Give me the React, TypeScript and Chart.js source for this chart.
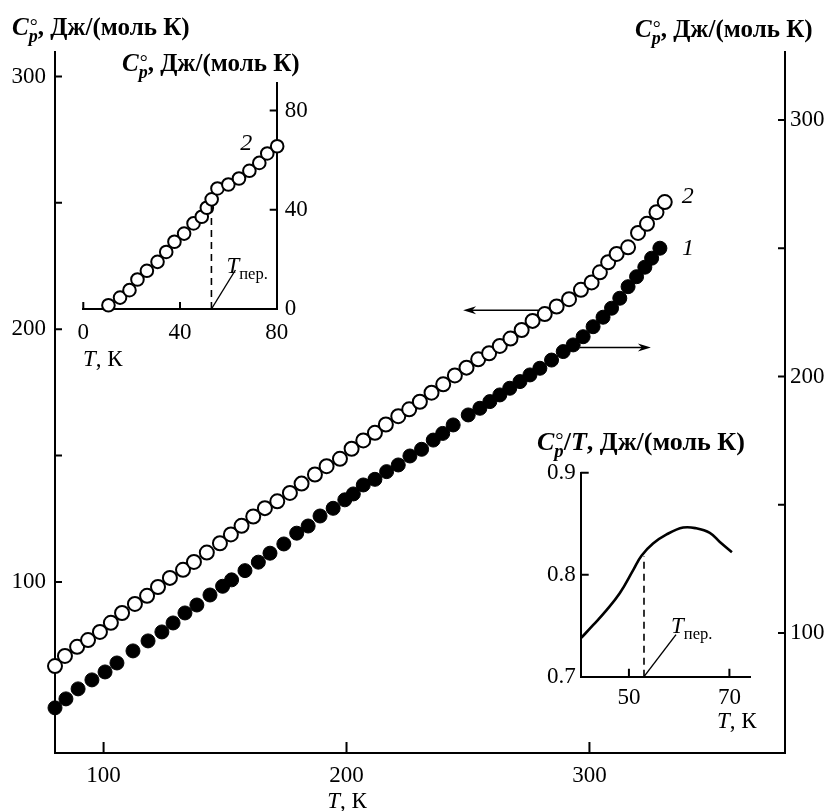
import React, { useEffect, useRef } from 'react';
import { Chart, registerables } from 'chart.js';

Chart.register(...registerables);

const W = 833;
const H = 811;
const INK = '#000';
const FAMILY = 'Liberation Serif';
const FONT = `"${FAMILY}", "Times New Roman", Times, serif`;
const TICK_SIZE = 23;
const TITLE_SIZE = 23;
const UNIT_SIZE = 25;

// Sample 2 (open circles, read on the left axis)
const T_SAMPLE2 = [
  80.0, 84.1, 89.1, 93.6, 98.5, 103.0, 107.6, 112.9, 117.9, 122.4, 127.3, 132.7, 137.2, 142.5,
  147.9, 152.4, 156.8, 161.6, 166.4, 171.5, 176.7, 181.5, 187.0, 191.8, 197.3, 202.1, 206.9,
  211.7, 216.2, 221.3, 225.8, 230.2, 235.0, 239.8, 244.6, 249.4, 254.2, 258.7, 263.1, 267.5,
  272.1, 276.6, 281.6, 286.5, 291.6, 296.5, 300.9, 304.3, 307.7, 311.2, 315.9, 320.0, 323.7,
  327.6, 331.0,
];
const CP_SAMPLE2 = [
  66.7, 70.7, 74.3, 77.0, 80.2, 83.8, 87.7, 91.3, 94.5, 98.0, 101.6, 104.8, 107.9, 111.6,
  115.3, 118.8, 122.2, 125.9, 129.2, 131.9, 135.2, 138.9, 142.5, 145.8, 148.7, 152.7, 156.0,
  159.0, 162.3, 165.6, 168.3, 171.3, 174.9, 178.2, 181.7, 184.8, 188.1, 190.5, 193.4, 196.3,
  199.7, 203.3, 206.0, 209.0, 211.9, 215.6, 218.5, 222.5, 226.5, 229.8, 232.4, 238.1, 241.7,
  246.3, 250.3,
];

// Sample 1 (filled circles, read on the right axis)
const T_SAMPLE1 = [
  80.0, 84.5, 89.5, 95.2, 100.6, 105.5, 112.1, 118.3, 124.0, 128.6, 133.5, 138.4, 143.8, 149.0,
  152.7, 158.2, 163.7, 168.5, 174.2, 179.5, 184.2, 189.1, 194.5, 199.3, 202.8, 206.9, 211.7,
  216.5, 221.3, 226.1, 230.9, 235.7, 239.6, 243.9, 250.1, 254.9, 259.0, 263.1, 267.2, 271.4,
  275.5, 279.6, 284.4, 289.2, 293.3, 297.4, 301.5, 305.6, 309.1, 312.5, 315.9, 319.4, 322.8,
  325.6, 329.0,
];
const CP_SAMPLE1 = [
  70.8, 74.3, 78.2, 81.7, 84.8, 88.3, 93.0, 96.9, 100.4, 103.9, 107.8, 110.9, 114.8, 118.2,
  120.7, 124.3, 127.6, 131.1, 134.7, 138.9, 141.7, 145.6, 148.6, 151.9, 154.2, 157.7, 159.9,
  162.9, 165.5, 169.0, 171.6, 175.2, 177.8, 181.1, 185.0, 187.6, 190.2, 192.8, 195.4, 198.0,
  200.6, 203.2, 206.4, 209.7, 212.3, 215.5, 219.4, 223.1, 226.6, 230.5, 235.0, 238.9, 242.6,
  246.1, 250.0,
];

const MAIN_X_TICKS = [100, 200, 300];
const MAIN_Y_TICKS = [100, 150, 200, 250, 300];

// Low-temperature heat capacity of sample 2
const T_LOW = [10.4, 15.2, 19.1, 22.4, 26.3, 30.7, 34.3, 37.7, 41.7, 45.6, 49.0, 51.1, 53.1, 55.5, 60.0, 64.4, 68.7, 72.8, 76.1, 80.2];
const CP_LOW = [1.5, 4.6, 7.6, 11.9, 15.4, 19.0, 23.0, 27.1, 30.4, 34.5, 37.2, 40.8, 44.2, 48.6, 50.2, 52.6, 55.7, 58.9, 62.7, 65.6];
const LOW_X_TICKS = [0, 40, 80];
const LOW_Y_TICKS = [0, 40, 80];

// Cp/T around the transition
const T_RATIO = [40.4, 42.9, 45.5, 48.2, 50.9, 52.5, 54.8, 57.5, 60.8, 63.4, 66.1, 68.1, 70.5];
const CP_T_RATIO = [0.7375, 0.7507, 0.765, 0.782, 0.805, 0.8186, 0.8305, 0.8395, 0.8462, 0.8455, 0.841, 0.832, 0.822];
const RATIO_X_TICKS = [50, 70];
const RATIO_Y_TICKS = [0.7, 0.8, 0.9];

const T_TRANSITION = 53;
const CP_LOW_AT_TRANSITION = 42.7;
const CP_T_AT_TRANSITION = 0.818;

// Arrows pointing each curve to its axis
const ARROW_TO_LEFT = { from: 279, to: 248, level: 207.5 };
const ARROW_TO_RIGHT = { from: 296, to: 325.3, level: 211.3 };

type Seg = { t: string; italic?: boolean; bold?: boolean; sub?: boolean; ring?: boolean };

const CP_UNITS: Seg[] = [
  { t: 'C', italic: true, bold: true },
  { t: 'p', italic: true, bold: true, sub: true, ring: true },
  { t: ', Дж/(моль К)', bold: true },
];
const CP_T_UNITS: Seg[] = [
  { t: 'C', italic: true, bold: true },
  { t: 'p', italic: true, bold: true, sub: true, ring: true },
  { t: '/', bold: true },
  { t: 'T', italic: true, bold: true },
  { t: ', Дж/(моль К)', bold: true },
];
const T_UNITS: Seg[] = [{ t: 'T', italic: true }, { t: ', К' }];
const T_TRANS_LABEL: Seg[] = [{ t: 'T', italic: true }, { t: 'пер.', sub: true }];

function font(size: number, italic = false, bold = false) {
  return `${italic ? 'italic ' : ''}${bold ? 'bold ' : ''}${size}px ${FONT}`;
}

function segWidth(ctx: CanvasRenderingContext2D, segs: Seg[], size: number) {
  let w = 0;
  for (const s of segs) {
    ctx.font = font(s.sub ? size * 0.72 : size, s.italic, s.bold);
    w += ctx.measureText(s.t).width;
  }
  return w;
}

function drawRich(ctx: CanvasRenderingContext2D, segs: Seg[], x: number, y: number, size = TICK_SIZE, align: 'left' | 'center' = 'left') {
  ctx.save();
  ctx.fillStyle = INK;
  ctx.textAlign = 'left';
  ctx.textBaseline = 'alphabetic';
  let cx = align === 'center' ? x - segWidth(ctx, segs, size) / 2 : x;
  for (const s of segs) {
    const fs = s.sub ? size * 0.72 : size;
    ctx.font = font(fs, s.italic, s.bold);
    const w = ctx.measureText(s.t).width;
    ctx.fillText(s.t, cx, y + (s.sub ? size * 0.28 : 0));
    if (s.ring) {
      ctx.font = font(size * 0.8);
      ctx.fillText('°', cx + 1, y - size * 0.1);
    }
    cx += w;
  }
  ctx.restore();
}

function innerTicks(chart: any, axisId: string, values: number[], len: number, side: 'left' | 'right' | 'bottom') {
  const { ctx, chartArea: a } = chart;
  const s = chart.scales[axisId];
  ctx.save();
  ctx.strokeStyle = INK;
  ctx.lineWidth = 2;
  ctx.beginPath();
  for (const v of values) {
    const p = s.getPixelForValue(v);
    if (side === 'left') {
      ctx.moveTo(a.left, p);
      ctx.lineTo(a.left + len, p);
    } else if (side === 'right') {
      ctx.moveTo(a.right, p);
      ctx.lineTo(a.right - len, p);
    } else {
      ctx.moveTo(p, a.bottom);
      ctx.lineTo(p, a.bottom - len);
    }
  }
  ctx.stroke();
  ctx.restore();
}

function arrow(ctx: CanvasRenderingContext2D, x1: number, y: number, x2: number) {
  const dir = Math.sign(x2 - x1);
  ctx.save();
  ctx.strokeStyle = INK;
  ctx.fillStyle = INK;
  ctx.lineWidth = 1.6;
  ctx.beginPath();
  ctx.moveTo(x1, y);
  ctx.lineTo(x2 - dir * 6, y);
  ctx.stroke();
  ctx.beginPath();
  ctx.moveTo(x2, y);
  ctx.lineTo(x2 - dir * 13, y - 4);
  ctx.lineTo(x2 - dir * 9, y);
  ctx.lineTo(x2 - dir * 13, y + 4);
  ctx.closePath();
  ctx.fill();
  ctx.restore();
}

function leader(ctx: CanvasRenderingContext2D, x1: number, y1: number, x2: number, y2: number) {
  ctx.save();
  ctx.strokeStyle = INK;
  ctx.lineWidth = 1.4;
  ctx.beginPath();
  ctx.moveTo(x1, y1);
  ctx.lineTo(x2, y2);
  ctx.stroke();
  ctx.restore();
}

function italicText(ctx: CanvasRenderingContext2D, t: string, x: number, y: number, size = 24) {
  ctx.save();
  ctx.fillStyle = INK;
  ctx.font = font(size, true);
  ctx.textAlign = 'center';
  ctx.textBaseline = 'middle';
  ctx.fillText(t, x, y);
  ctx.restore();
}

// Linear axis whose box has a fixed size, so the plot area lands where the padding puts it.
function linearAxis(o: {
  min: number;
  max: number;
  position: 'left' | 'right' | 'bottom';
  values: number[];
  label: (v: number) => string;
  padding: number;
  size: number;
}) {
  const horizontal = o.position === 'bottom';
  return {
    type: 'linear',
    position: o.position,
    min: o.min,
    max: o.max,
    bounds: 'data',
    afterFit: (s: any) => {
      if (horizontal) s.height = o.size;
      else s.width = o.size;
    },
    afterBuildTicks: (s: any) => {
      s.ticks = o.values.map((value) => ({ value }));
    },
    grid: { display: false, drawTicks: false },
    border: { display: true, color: INK, width: 2 },
    ticks: {
      color: INK,
      font: { family: FONT, size: TICK_SIZE },
      padding: o.padding,
      autoSkip: false,
      maxRotation: 0,
      callback: (v: number) => o.label(v),
    },
  };
}

const points = (xs: number[], ys: number[]) => xs.map((x, i) => ({ x, y: ys[i] }));

function mainConfig(): any {
  const decor = {
    id: 'mainDecor',
    afterDraw(chart: any) {
      const { ctx } = chart;
      const x = chart.scales.x;
      const yl = chart.scales.yLeft;
      const yr = chart.scales.yRight;
      innerTicks(chart, 'yLeft', MAIN_Y_TICKS, 7, 'left');
      innerTicks(chart, 'yRight', MAIN_Y_TICKS, 7, 'right');
      innerTicks(chart, 'x', MAIN_X_TICKS, 11, 'bottom');

      const la = yl.getPixelForValue(ARROW_TO_LEFT.level);
      arrow(ctx, x.getPixelForValue(ARROW_TO_LEFT.from), la, x.getPixelForValue(ARROW_TO_LEFT.to));
      const ra = yr.getPixelForValue(ARROW_TO_RIGHT.level);
      arrow(ctx, x.getPixelForValue(ARROW_TO_RIGHT.from), ra, x.getPixelForValue(ARROW_TO_RIGHT.to));

      const n2 = T_SAMPLE2.length - 1;
      italicText(ctx, '2', x.getPixelForValue(T_SAMPLE2[n2]) + 23, yl.getPixelForValue(CP_SAMPLE2[n2]) - 5);
      const n1 = T_SAMPLE1.length - 1;
      italicText(ctx, '1', x.getPixelForValue(T_SAMPLE1[n1]) + 28, yr.getPixelForValue(CP_SAMPLE1[n1]));

      drawRich(ctx, CP_UNITS, 12, 35, UNIT_SIZE);
      drawRich(ctx, CP_UNITS, 635, 37, UNIT_SIZE);
      drawRich(ctx, T_UNITS, 347, 808, TITLE_SIZE, 'center');
    },
  };
  return {
    type: 'scatter',
    data: {
      datasets: [
        {
          data: points(T_SAMPLE2, CP_SAMPLE2),
          yAxisID: 'yLeft',
          pointRadius: 7,
          pointBorderWidth: 2,
          pointBackgroundColor: '#fff',
          pointBorderColor: INK,
          clip: false,
        },
        {
          data: points(T_SAMPLE1, CP_SAMPLE1),
          yAxisID: 'yRight',
          pointRadius: 7,
          pointBorderWidth: 1,
          pointBackgroundColor: INK,
          pointBorderColor: INK,
          clip: false,
        },
      ],
    },
    options: {
      responsive: false,
      animation: false,
      devicePixelRatio: 1,
      events: [],
      layout: { padding: { left: 0, right: 0, top: 52, bottom: 0 } },
      plugins: { legend: { display: false }, tooltip: { enabled: false } },
      scales: {
        x: linearAxis({ min: 80, max: 380.5, position: 'bottom', values: MAIN_X_TICKS, label: (v) => String(v), padding: 9, size: 58 }),
        yLeft: linearAxis({
          min: 32.3,
          max: 309.7,
          position: 'left',
          values: MAIN_Y_TICKS,
          label: (v) => (v % 100 === 0 ? String(v) : ''),
          padding: 9,
          size: 55,
        }),
        yRight: linearAxis({
          min: 53.2,
          max: 326.5,
          position: 'right',
          values: MAIN_Y_TICKS,
          label: (v) => (v % 100 === 0 ? String(v) : ''),
          padding: 5,
          size: 48,
        }),
      },
    },
    plugins: [decor],
  };
}

function lowConfig(): any {
  const decor = {
    id: 'lowDecor',
    afterDraw(chart: any) {
      const { ctx } = chart;
      const x = chart.scales.x;
      const y = chart.scales.y;
      innerTicks(chart, 'x', LOW_X_TICKS.slice(0, 2), 7, 'bottom');
      innerTicks(chart, 'y', LOW_Y_TICKS.slice(1), 7, 'right');
      const fx = x.getPixelForValue(T_TRANSITION);
      const fy = y.getPixelForValue(0);
      leader(ctx, fx, fy, fx + 24, fy - 39);
      drawRich(ctx, T_TRANS_LABEL, fx + 15, fy - 36, TITLE_SIZE);
      const n = T_LOW.length - 1;
      italicText(ctx, '2', x.getPixelForValue(T_LOW[n]) - 31, y.getPixelForValue(CP_LOW[n]) - 3);
      drawRich(ctx, CP_UNITS, 122, 71, UNIT_SIZE);
      drawRich(ctx, T_UNITS, 83, 366, TITLE_SIZE);
    },
  };
  return {
    type: 'scatter',
    data: {
      datasets: [
        {
          data: [
            { x: T_TRANSITION, y: 0 },
            { x: T_TRANSITION, y: CP_LOW_AT_TRANSITION },
          ],
          showLine: true,
          borderColor: INK,
          borderWidth: 1.6,
          borderDash: [7, 5],
          pointRadius: 0,
        },
        {
          data: points(T_LOW, CP_LOW),
          pointRadius: 6.3,
          pointBorderWidth: 2,
          pointBackgroundColor: '#fff',
          pointBorderColor: INK,
          clip: false,
        },
      ],
    },
    options: {
      responsive: false,
      animation: false,
      devicePixelRatio: 1,
      events: [],
      layout: { padding: { left: 83.3, right: W - 276.7 - 40, top: 83, bottom: H - 309 - 40 } },
      plugins: { legend: { display: false }, tooltip: { enabled: false } },
      scales: {
        x: linearAxis({ min: 0, max: 80, position: 'bottom', values: LOW_X_TICKS, label: (v) => String(v), padding: 10, size: 40 }),
        y: linearAxis({ min: 0, max: 91.1, position: 'right', values: LOW_Y_TICKS, label: (v) => String(v), padding: 8, size: 40 }),
      },
    },
    plugins: [decor],
  };
}

function ratioConfig(): any {
  const decor = {
    id: 'ratioDecor',
    afterDraw(chart: any) {
      const { ctx } = chart;
      const x = chart.scales.x;
      const y = chart.scales.y;
      innerTicks(chart, 'x', RATIO_X_TICKS, 8, 'bottom');
      innerTicks(chart, 'y', RATIO_Y_TICKS.slice(1), 8, 'left');
      const fx = x.getPixelForValue(T_TRANSITION);
      const fy = y.getPixelForValue(RATIO_Y_TICKS[0]);
      leader(ctx, fx, fy, fx + 32, fy - 42);
      drawRich(ctx, T_TRANS_LABEL, fx + 27, fy - 44, TITLE_SIZE);
      drawRich(ctx, CP_T_UNITS, 537, 450, UNIT_SIZE + 1);
      drawRich(ctx, T_UNITS, 717, 728, TITLE_SIZE);
    },
  };
  return {
    type: 'scatter',
    data: {
      datasets: [
        {
          data: points(T_RATIO, CP_T_RATIO),
          showLine: true,
          borderColor: INK,
          borderWidth: 2.6,
          pointRadius: 0,
          tension: 0.4,
        },
        {
          data: [
            { x: T_TRANSITION, y: RATIO_Y_TICKS[0] },
            { x: T_TRANSITION, y: CP_T_AT_TRANSITION },
          ],
          showLine: true,
          borderColor: INK,
          borderWidth: 1.6,
          borderDash: [7, 5],
          pointRadius: 0,
        },
      ],
    },
    options: {
      responsive: false,
      animation: false,
      devicePixelRatio: 1,
      events: [],
      layout: { padding: { left: 580.7 - 45, right: W - 750, top: 472.7, bottom: H - 676.7 - 40 } },
      plugins: { legend: { display: false }, tooltip: { enabled: false } },
      scales: {
        x: linearAxis({ min: 40.4, max: 74.1, position: 'bottom', values: RATIO_X_TICKS, label: (v) => String(v), padding: 7, size: 40 }),
        y: linearAxis({ min: 0.7, max: 0.9, position: 'left', values: RATIO_Y_TICKS, label: (v) => v.toFixed(1), padding: 5, size: 45 }),
      },
    },
    plugins: [decor],
  };
}

// Font faces used on the canvases; they are requested up front and the charts are redrawn once ready.
const FACES = ['', 'italic ', 'bold ', 'italic bold '].map((s) => `${s}22px "${FAMILY}"`);

export default function App() {
  const mainRef = useRef<HTMLCanvasElement>(null);
  const lowRef = useRef<HTMLCanvasElement>(null);
  const ratioRef = useRef<HTMLCanvasElement>(null);

  useEffect(() => {
    const charts = [
      new Chart(mainRef.current as HTMLCanvasElement, mainConfig()),
      new Chart(lowRef.current as HTMLCanvasElement, lowConfig()),
      new Chart(ratioRef.current as HTMLCanvasElement, ratioConfig()),
    ];
    let alive = true;
    const fonts = (document as any).fonts;
    if (fonts && fonts.load) {
      Promise.all(FACES.map((f) => fonts.load(f, 'Дж300')))
        .catch(() => undefined)
        .then(() => {
          if (alive) charts.forEach((c) => c.update());
        });
    }
    return () => {
      alive = false;
      charts.forEach((c) => c.destroy());
    };
  }, []);

  const layer: React.CSSProperties = { position: 'absolute', left: 0, top: 0, width: W, height: H };
  return (
    <div style={{ position: 'absolute', left: 0, top: 0, width: W, height: H, background: '#fff' }}>
      <canvas ref={mainRef} width={W} height={H} style={layer} />
      <canvas ref={lowRef} width={W} height={H} style={layer} />
      <canvas ref={ratioRef} width={W} height={H} style={layer} />
    </div>
  );
}
